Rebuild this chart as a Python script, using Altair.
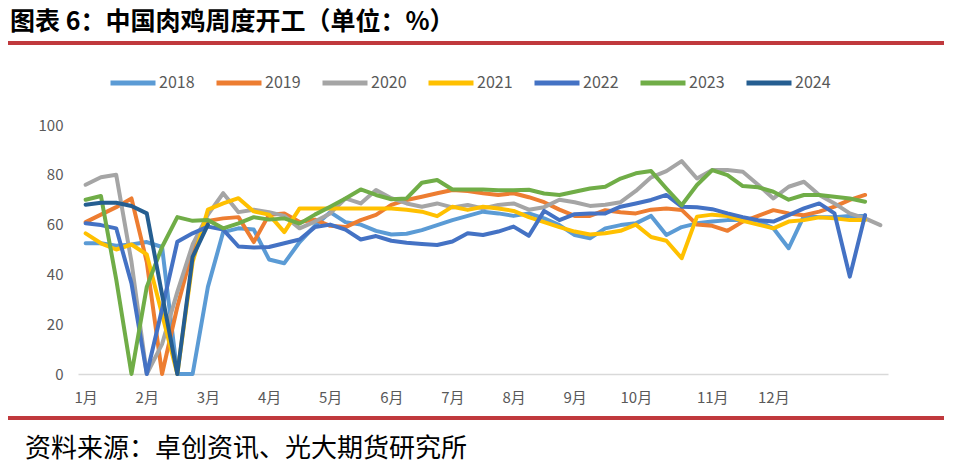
import altair as alt
import pandas as pd

title_text = "图表 6：中国肉鸡周度开工（单位：%）"
source_text = "资料来源：卓创资讯、光大期货研究所"

years = ["2018", "2019", "2020", "2021", "2022", "2023", "2024"]
colors = ["#5B9BD5", "#ED7D31", "#A5A5A5", "#FFC000", "#4472C4", "#70AD47", "#255E91"]

month_labels = ["1月", "2月", "3月", "4月", "5月", "6月", "7月", "8月", "9月", "10月", "11月", "12月"]
month_weeks = [0, 4, 8, 12, 16, 20, 24, 28, 32, 36, 41, 45]

v2018 = [52.5, 52.5, 51.5, 52, 53, 51, 0, 0, 35, 57,
         58.5, 58, 46, 44.5, 53, 59.5, 65, 61, 60, 57.5,
         56, 56.3, 57.8, 59.8, 61.8, 63.5, 65.2, 64.5, 63.5, 64.5,
         62.5, 59.8, 55.8, 54.5, 58.5, 59.8, 60.5, 63.5, 55.8, 59,
         60.5, 61.2, 61.8, 61.8, 61.5, 58.5, 50.5, 63.5, 63, 63,
         63.5, 63.5]
v2019 = [61, 64, 67, 70.5, 45, 0, 27, 50, 61.5, 62.5,
         63, 53, 64, 64.5, 61, 62, 59.5, 59, 61.8, 63.9,
         67.9, 69.9, 71.2, 72.6, 73.9, 73.5, 72.6, 71.9, 72.6, 71,
         69, 66, 63.5, 63.5, 65.8, 65, 64.5, 66, 66.5, 65.9,
         60, 59.5, 57.5, 61.2, 63.5, 65.8, 64.5, 63.8, 65.2, 67.2,
         69.9, 71.9]
v2020 = [76, 79, 80, 45, 0, 12, 33, 52, 64, 72.6,
         65, 66, 65, 63.5, 58.5, 61.2, 64.5, 70.5, 68.5, 73.9,
         70.6, 68.5, 67.2, 68.5, 66.9, 67.9, 66.5, 67.9, 68.5, 66,
         67, 70, 69, 67.5, 68, 69, 73.5, 79, 81.5, 85.5,
         78.5, 81.9, 81.9, 81.2, 76, 70.5, 75.2, 77.2, 71.9, 68.5,
         64.5, 62.5, 59.8]
v2021 = [56.5, 52.5, 50, 52, 48, 24, 0, 45, 66, 68.5,
         70.6, 65.3, 64, 57, 66.5, 66.5, 66.5, 66.5, 66.5, 66.5,
         66.5, 66, 65.2, 63.4, 67.2, 65.9, 67.2, 66.5, 65.5, 63,
         61, 59, 57.2, 56, 56.5, 57.5, 60, 55, 53.5, 46.5,
         63.2, 64, 63.5, 61.5, 60, 58.5, 61.2, 61.8, 62.9, 62.5,
         61.8, 61.8]
v2022 = [60.5, 59.8, 58.5, 36.4, 0, 26, 53.1, 56.5, 59.2, 58,
         51.2, 50.8, 51, 52.5, 54, 59, 60, 58, 54, 55.4,
         53.5, 52.7, 52.2, 51.8, 53.2, 56.5, 55.8, 57.2, 59.2, 55.5,
         65.5, 61.8, 64.2, 64.5, 64.5, 67.2, 68.5, 69.9, 71.9, 67.2,
         67, 66.2, 64.5, 63, 61.8, 61.2, 63.8, 66.5, 68.5, 64.5,
         39.1, 63.8]
v2023 = [70, 71.5, 38, 0, 35, 51, 63, 61.5, 61.8, 58.5,
         60.5, 63, 62, 62.5, 60.4, 64, 67.2, 70.5, 74.1, 71.9,
         70.2, 70.5, 76.8, 77.9, 74.1, 74.1, 74.1, 73.8, 73.8, 74,
         72.5, 71.9, 73.2, 74.5, 75.2, 78.5, 80.6, 81.5, 74.5, 67.8,
         75.9, 81.9, 79.9, 75.5, 75, 73.2, 70, 71.9, 71.9, 71.2,
         70.5, 69.2]
v2024 = [68, 68.8, 68.8, 67.5, 64.5, 32, 0, 47, 60]

series = [v2018, v2019, v2020, v2021, v2022, v2023, v2024]

rows = []
for yr, vals in zip(years, series):
    for w, v in enumerate(vals):
        rows.append({"year": yr, "week": w, "value": v})
df = pd.DataFrame(rows)

label_expr = ("[" + ",".join("'%s'" % m for m in month_labels) + "][indexof(["
              + ",".join(str(w) for w in month_weeks) + "], datum.value)]")

FONT = "Noto Sans CJK SC"
RED = "#C0393D"

lines = alt.Chart(df).mark_line(strokeWidth=4, strokeJoin="round", strokeCap="round").encode(
    x=alt.X("week:Q",
            scale=alt.Scale(domain=[-0.5, 52.5], nice=False, zero=False),
            axis=alt.Axis(values=month_weeks, labelExpr=label_expr, title=None, ticks=False,
                          tickSize=0, grid=False, domainColor="#D9D9D9", domainWidth=1.5,
                          labelColor="#595959", labelFontSize=15, labelFont=FONT,
                          labelPadding=16, labelFlush=False, labelOverlap=False)),
    y=alt.Y("value:Q",
            scale=alt.Scale(domain=[0, 100], nice=False),
            axis=alt.Axis(values=[0, 20, 40, 60, 80, 100], title=None, grid=False, domain=False,
                          ticks=False, tickSize=0, labelPadding=15, labelColor="#595959",
                          labelFontSize=15, labelFont=FONT)),
    color=alt.Color("year:N",
                    scale=alt.Scale(domain=years, range=colors),
                    legend=alt.Legend(orient="none", legendX=30, legendY=-67, direction="horizontal",
                                      title=None, symbolType="stroke", symbolSize=2025,
                                      symbolStrokeWidth=5, labelFontSize=16, labelColor="#595959",
                                      labelFont=FONT, labelOffset=1, columnPadding=11, padding=0)),
)

title_df = pd.DataFrame({"t": [title_text]})
title = alt.Chart(title_df).mark_text(align="left", baseline="middle", fontSize=25,
                                      fontWeight="bold", font=FONT, color="#000000").encode(
    text="t:N", x=alt.value(-68), y=alt.value(-103))

source_df = pd.DataFrame({"t": [source_text]})
source = alt.Chart(source_df).mark_text(align="left", baseline="middle", fontSize=26,
                                        font=FONT, color="#000000").encode(
    text="t:N", x=alt.value(-53), y=alt.value(324))

rule_df = pd.DataFrame({"k": [0]})
top_rule = alt.Chart(rule_df).mark_rule(color=RED, strokeWidth=4).encode(
    x=alt.value(-70), x2=alt.value(868), y=alt.value(-82))
bottom_rule = alt.Chart(rule_df).mark_rule(color=RED, strokeWidth=4).encode(
    x=alt.value(-70), x2=alt.value(868), y=alt.value(293))

chart = alt.layer(lines, title, source, top_rule, bottom_rule).properties(
    width=810, height=249,
    autosize=alt.AutoSizeParams(type="none"),
    padding={"left": 70, "top": 117, "right": 56, "bottom": 90},
).configure_view(stroke=None)

chart.save("out.html", embed_options={"renderer": "svg", "actions": False})
